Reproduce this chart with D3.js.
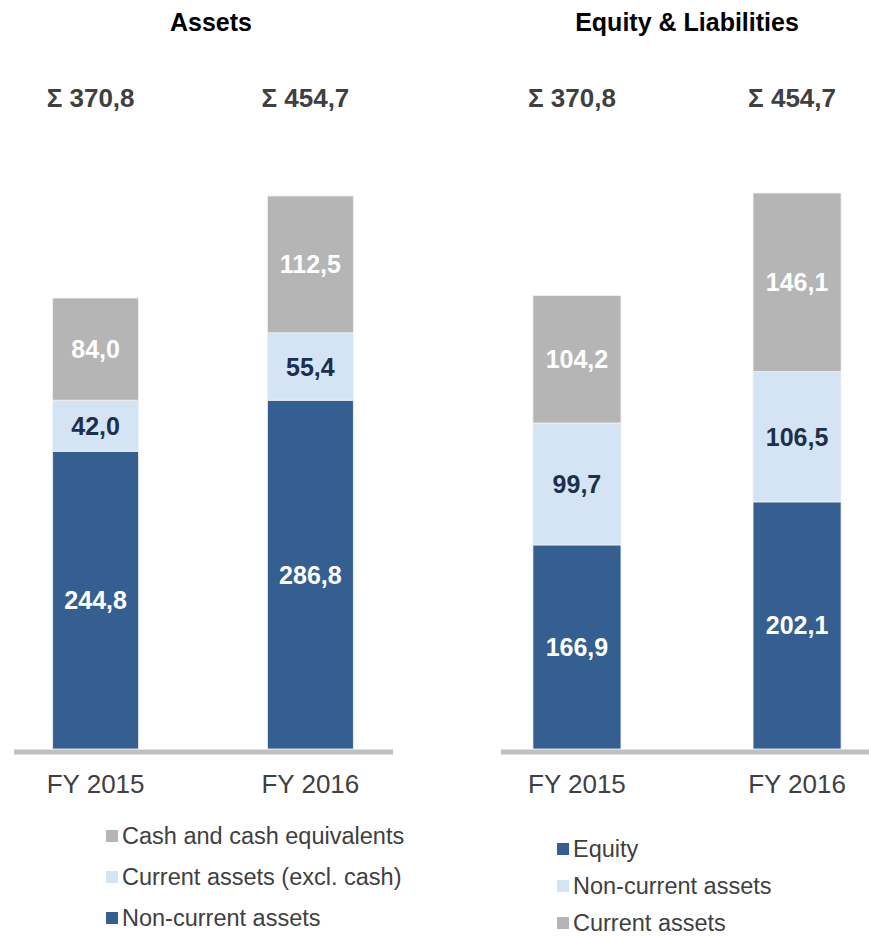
<!DOCTYPE html>
<html>
<head>
<meta charset="utf-8">
<script src="https://cdn.jsdelivr.net/npm/d3@7"></script>
<style>
  body { margin: 0; background: #fff; }
  svg { display: block; font-family: "Liberation Sans", Arial, sans-serif; }
</style>
</head>
<body>
<div id="chart"></div>
<script>
// categories
const years = ['FY 2015', 'FY 2016'];

// assets side
const assetNames = ['Non-current assets', 'Current assets (excl. cash)', 'Cash and cash equivalents'];
const nonCurrentAssets = [244.8, 286.8];
const currentAssets = [42.0, 55.4];
const cashEquivalents = [84.0, 112.5];
const assetTotals = [370.8, 454.7];

// equity & liabilities side
const liabNames = ['Equity', 'Non-current assets', 'Current assets'];
const equity = [166.9, 202.1];
const nonCurrentLiab = [99.7, 106.5];
const currentLiab = [104.2, 146.1];
const liabTotals = [370.8, 454.7];

const width = 869;
const height = 937;
const base = 749;

const colors = ['#355f91', '#d4e4f5', '#b5b5b5'];
const labelColors = ['#ffffff', '#1c2f4c', '#ffffff'];

const fmt = d3.formatLocale({decimal: ',', thousands: '.', grouping: [3], currency: ['', '']}).format('.1f');

const svg = d3.select('#chart')
  .append('svg')
  .attr('width', width)
  .attr('height', height)
  .attr('viewBox', [0, 0, width, height]);

function drawPanel(p) {
  const x = d3.scaleBand()
    .domain(years)
    .range(p.xRange)
    .paddingInner(0.6)
    .paddingOuter(p.outer);

  const y = d3.scaleLinear()
    .domain([0, 454.7])
    .range([base, p.top]);

  const rows = years.map((yr, i) => {
    const r = {year: yr};
    p.names.forEach((n, k) => r[n] = p.series[k][i]);
    return r;
  });
  const stacked = d3.stack().keys(p.names)(rows);

  const g = svg.append('g');

  // title
  g.append('text')
    .attr('x', p.titleX)
    .attr('y', 31)
    .attr('text-anchor', 'middle')
    .attr('font-size', '25px')
    .attr('font-weight', 'bold')
    .attr('fill', '#000')
    .text(p.title);

  // totals
  g.selectAll('.total')
    .data(p.totals)
    .join('text')
      .attr('class', 'total')
      .attr('x', (d, i) => x(years[i]) + x.bandwidth() / 2 - 5)
      .attr('y', 107)
      .attr('text-anchor', 'middle')
      .attr('font-size', '26px')
      .attr('font-weight', 'bold')
      .attr('fill', '#404040')
      .text(d => 'Σ ' + fmt(d));

  // bars
  const layer = g.selectAll('.layer')
    .data(stacked)
    .join('g')
      .attr('class', 'layer')
      .attr('fill', (d, k) => colors[k]);

  layer.selectAll('rect')
    .data(d => d)
    .join('rect')
      .attr('x', d => x(d.data.year))
      .attr('y', d => y(d[1]))
      .attr('width', x.bandwidth())
      .attr('height', d => y(d[0]) - y(d[1]))
      .attr('stroke', '#f2f2f2')
      .attr('stroke-width', 0.8);

  layer.selectAll('text')
    .data((d, k) => d.map(v => ({v: v, k: k})))
    .join('text')
      .attr('x', d => x(d.v.data.year) + x.bandwidth() / 2)
      .attr('y', d => (y(d.v[0]) + y(d.v[1])) / 2)
      .attr('dy', '0.36em')
      .attr('text-anchor', 'middle')
      .attr('font-size', '25px')
      .attr('font-weight', 'bold')
      .attr('fill', d => labelColors[d.k])
      .text(d => fmt(d.v[1] - d.v[0]));

  // baseline
  g.append('line')
    .attr('x1', p.lineX[0])
    .attr('x2', p.lineX[1])
    .attr('y1', base + 3)
    .attr('y2', base + 3)
    .attr('stroke', '#bfbfbf')
    .attr('stroke-width', 5);

  // category labels
  g.append('g')
    .selectAll('text')
    .data(years)
    .join('text')
      .attr('x', d => x(d) + x.bandwidth() / 2)
      .attr('y', 793)
      .attr('text-anchor', 'middle')
      .attr('font-size', '26px')
      .attr('fill', '#404040')
      .text(d => d);

  // legend
  const leg = g.append('g')
    .selectAll('g')
    .data(p.legendOrder)
    .join('g')
      .attr('transform', (k, i) => `translate(${p.legendX},${p.legendY + i * p.legendStep})`);

  leg.append('rect')
    .attr('x', 0)
    .attr('y', -6)
    .attr('width', 12)
    .attr('height', 12)
    .attr('fill', k => colors[k]);

  leg.append('text')
    .attr('x', 16)
    .attr('y', 0)
    .attr('dy', '0.35em')
    .attr('font-size', '23.5px')
    .attr('fill', '#404040')
    .text(k => p.names[k]);
}

drawPanel({
  title: 'Assets',
  titleX: 211,
  names: assetNames,
  series: [nonCurrentAssets, currentAssets, cashEquivalents],
  totals: assetTotals,
  xRange: [14, 392],
  outer: 0.18,
  top: 196,
  lineX: [14, 393],
  legendOrder: [2, 1, 0],
  legendX: 106,
  legendY: 836,
  legendStep: 41
});

drawPanel({
  title: 'Equity & Liabilities',
  titleX: 687,
  names: liabNames,
  series: [equity, nonCurrentLiab, currentLiab],
  totals: liabTotals,
  xRange: [501, 873],
  outer: 0.145,
  top: 193,
  lineX: [501, 869],
  legendOrder: [0, 1, 2],
  legendX: 557,
  legendY: 849,
  legendStep: 37
});
</script>
</body>
</html>
